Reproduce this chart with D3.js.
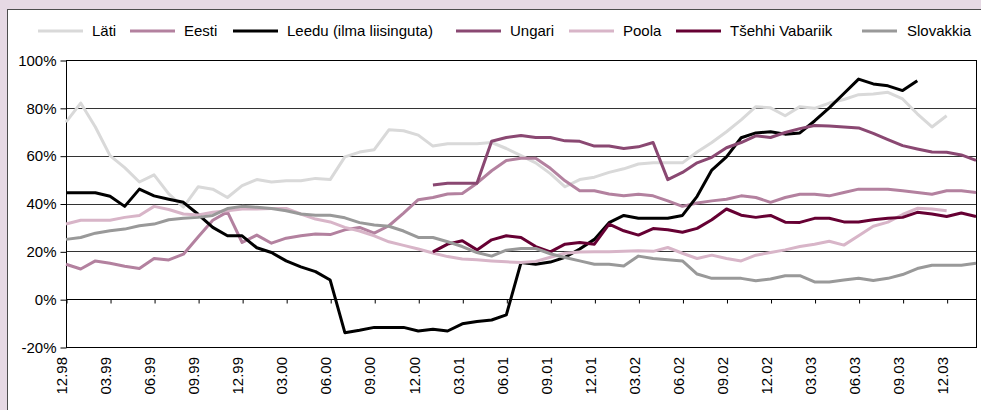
<!DOCTYPE html>
<html>
<head>
<meta charset="utf-8">
<script src="https://cdn.jsdelivr.net/npm/d3@7"></script>
<style>
  body { margin: 0; }
  svg { display: block; font-family: "Liberation Sans", Arial, sans-serif; }
</style>
</head>
<body>
<svg width="981" height="410"></svg>
<script>
const svg = d3.select("svg");
const width = +svg.attr("width");
const height = +svg.attr("height");

// months 12.98 .. 02.04
const months = [
  "12.98","01.99","02.99","03.99","04.99","05.99","06.99","07.99","08.99","09.99","10.99","11.99",
  "12.99","01.00","02.00","03.00","04.00","05.00","06.00","07.00","08.00","09.00","10.00","11.00",
  "12.00","01.01","02.01","03.01","04.01","05.01","06.01","07.01","08.01","09.01","10.01","11.01",
  "12.01","01.02","02.02","03.02","04.02","05.02","06.02","07.02","08.02","09.02","10.02","11.02",
  "12.02","01.03","02.03","03.03","04.03","05.03","06.03","07.03","08.03","09.03","10.03","11.03",
  "12.03","01.04","02.04"
];
const tickMonths = ["12.98","03.99","06.99","09.99","12.99","03.00","06.00","09.00","12.00","03.01","06.01",
  "09.01","12.01","03.02","06.02","09.02","12.02","03.03","06.03","09.03","12.03"];
const yTicks = [-20, 0, 20, 40, 60, 80, 100];

const seriesNames = ["Läti", "Eesti", "Leedu (ilma liisinguta)", "Ungari", "Poola", "Tšehhi Vabariik", "Slovakkia"];
const seriesColors = ["#d9d9d9", "#b3819f", "#000000", "#8a4872", "#d8b5c8", "#660033", "#999999"];

const lati = [74,82,72,60,55,49,52,44,38.5,47,46,42.5,47.5,50,49,49.5,49.5,50.5,50,59.5,61.5,62.5,70.8,70.4,
  68.6,64,65,65,65,65.5,63,60,57,52.5,47,50,51,53,54.5,56.5,57,57,57,61.5,65.5,70,75,80.5,
  80,76.7,80.5,79.8,82,83.5,85.5,85.8,86.5,83.7,77.5,72,76.7,null,null];
const eesti = [14.6,12.6,16,15,13.8,12.8,17,16.4,18.8,26,33,36.5,23.7,26.8,23.4,25.5,26.5,27.2,27,29,30,27.6,30.7,36,
  41.6,42.5,44,44.2,48.5,53.7,58,58.9,58.9,54.7,49.5,45.3,45.3,44,43.2,43.9,43.2,41.1,38.8,40.2,41.1,41.8,43.2,42.5,
  40.5,42.5,43.9,43.9,43.2,44.6,46,46,46,45.3,44.6,43.9,45.3,45.3,44.6];
const leedu = [44.5,44.5,44.5,43,38.8,46,43.2,41.8,40.5,35.5,30,26.5,26.5,21.5,19.5,16,13.5,11.5,8,-14,-13,-11.8,-11.8,-11.8,
  -13.3,-12.6,-13.3,-10.3,-9.3,-8.7,-6.6,15.3,14.6,15.5,17.5,21,25,32,35,33.8,33.8,33.8,35,43,54,59.5,67.5,69.5,
  70,69,69.5,74.5,80,86,92,90,89.2,87.2,91.3,null,null,null,null];
const ungari = [null,null,null,null,null,null,null,null,null,null,null,null,null,null,null,null,null,null,null,null,null,null,null,null,
  null,47.7,48.5,48.5,48.5,66,67.6,68.4,67.6,67.6,66.2,66,64,64,63,63.7,65.5,50,53,57,59.3,63.3,65.5,68.3,
  67.6,69.7,71.3,72.6,72.4,72,71.6,69.3,66.7,64.2,62.8,61.5,61.4,60.3,58];
const poola = [31.4,33,33,33,34.2,35,38.8,37.5,35.6,35.2,36.3,37,37.7,37.7,37.9,37.9,35.6,33.5,32.3,30,28.5,26.5,24,22.5,
  21,19.3,17.8,16.8,16.5,16,15.6,15.3,15.8,17.5,19.2,19.7,19.8,19.8,20,20.2,20,21.6,19.2,17,18.4,17,16,18.4,
  19.5,20.6,22,23,24.2,22.6,26.5,30.5,32.2,35.4,38,37.7,37,null,null];
const tsehhi = [null,null,null,null,null,null,null,null,null,null,null,null,null,null,null,null,null,null,null,null,null,null,null,null,
  null,19.8,23,24.4,20.6,24.8,26.5,25.8,22,19.8,23,23.7,23,31.4,28.6,26.8,29.5,29,28,29.6,33.2,37.7,35.1,34.2,
  35,32.2,32.1,33.8,33.8,32.3,32.3,33.2,33.8,34.2,36.3,35.6,34.6,36,34.6];
const slovakkia = [25,25.8,27.6,28.6,29.3,30.7,31.4,33.2,33.8,34.2,35,37.9,38.8,38.4,37.9,37,35.6,35.1,35.1,34,32,31,30.5,28.5,
  25.8,25.8,24,22,19.5,18,20.5,21.2,21.2,19,17.4,16,14.6,14.6,13.9,18,17,16.5,16,10.5,8.7,8.7,8.7,7.7,
  8.4,9.8,9.8,7.2,7.2,8,8.7,7.8,8.7,10.3,12.8,14.2,14.2,14.2,15];

const seriesValues = [lati, eesti, leedu, ungari, poola, tsehhi, slovakkia];

// frame
svg.append("rect").attr("width", width).attr("height", height).attr("fill", "#e6d9e4");
svg.append("rect")
  .attr("x", 7.5).attr("y", 9.5)
  .attr("width", width + 10).attr("height", height + 10)
  .attr("fill", "#fff").attr("stroke", "#4d4d4d");

const plotLeft = 66, plotRight = 976, plotTop = 60, plotBottom = 347;

const x = d3.scalePoint().domain(months).range([plotLeft, plotRight]);
const y = d3.scaleLinear().domain([-20, 100]).range([plotBottom, plotTop]);

// grid
svg.append("g")
  .selectAll("line")
  .data(yTicks.filter(d => d > -20 && d < 100 && d !== 0))
  .join("line")
    .attr("x1", plotLeft).attr("x2", plotRight)
    .attr("y1", d => Math.round(y(d)) + 0.5).attr("y2", d => Math.round(y(d)) + 0.5)
    .attr("stroke", "#333").attr("stroke-width", 1);

// plot border
svg.append("rect")
  .attr("x", plotLeft + 0.5).attr("y", plotTop + 0.5)
  .attr("width", plotRight - plotLeft).attr("height", plotBottom - plotTop)
  .attr("fill", "none").attr("stroke", "#000");

// y axis
const yAxis = svg.append("g")
  .attr("transform", `translate(${plotLeft + 0.5},0.5)`)
  .call(d3.axisLeft(y).tickValues(yTicks).tickFormat(d => d + "%").tickSize(6).tickPadding(4));
yAxis.select(".domain").remove();
yAxis.selectAll("text").attr("font-size", 15).attr("font-family", "Liberation Sans, Arial").attr("fill", "#000");
yAxis.selectAll("line").attr("stroke", "#000");

// x axis on the 0 line
const xAxis = svg.append("g")
  .attr("transform", `translate(0.5,${Math.round(y(0)) + 0.5})`)
  .call(d3.axisBottom(x).tickValues(tickMonths).tickSize(4).tickFormat(""));
xAxis.select(".domain").attr("d", `M${plotLeft},0H${plotRight}`).attr("stroke", "#000");
xAxis.selectAll("line").attr("stroke", "#000");

// x labels under the plot
svg.append("g")
  .selectAll("text")
  .data(tickMonths)
  .join("text")
    .attr("transform", d => `translate(${x(d) - 4},357) rotate(-90)`)
    .attr("dy", "0.35em")
    .attr("text-anchor", "end")
    .attr("font-size", 15)
    .attr("fill", "#000")
    .text(d => d);

// lines
const line = d3.line()
  .defined(d => d.v !== null)
  .x(d => x(d.m))
  .y(d => y(d.v));

svg.append("g")
  .attr("fill", "none")
  .attr("stroke-width", 3)
  .attr("stroke-linejoin", "round")
  .selectAll("path")
  .data(seriesValues)
  .join("path")
    .attr("stroke", (d, i) => seriesColors[i])
    .attr("d", vals => line(vals.map((v, j) => ({ m: months[j], v }))));

// legend
const legendX = [38, 130, 233, 456, 569, 676, 862];
const legend = svg.append("g").attr("transform", "translate(0,31)");
const item = legend.selectAll("g")
  .data(seriesNames)
  .join("g")
    .attr("transform", (d, i) => `translate(${legendX[i]},0)`);
item.append("line")
  .attr("x1", 0).attr("x2", (d, i) => i === 6 ? 35 : 45)
  .attr("stroke", (d, i) => seriesColors[i])
  .attr("stroke-width", 3);
item.append("text")
  .attr("x", (d, i) => i === 6 ? 45 : 54)
  .attr("dy", "0.35em")
  .attr("font-size", 15)
  .attr("fill", "#000")
  .text(d => d);
</script>
</body>
</html>
